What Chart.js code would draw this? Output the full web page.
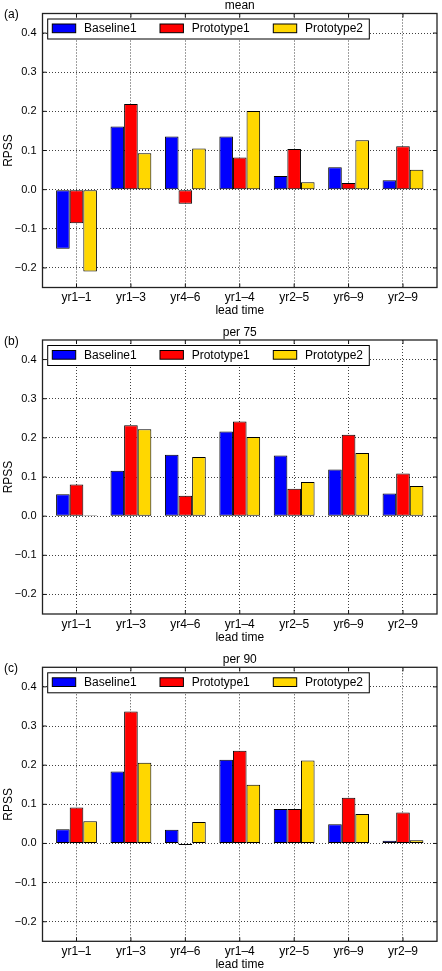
<!DOCTYPE html>
<html>
<head>
<meta charset="utf-8">
<script src="https://cdn.jsdelivr.net/npm/chart.js@4.4.1/dist/chart.umd.min.js"></script>
<style>
  html, body { margin: 0; padding: 0; background: #fff; overflow: hidden; }
  canvas { position: absolute; left: 0; }
</style>
</head>
<body>
<canvas id="chart-a" width="442" height="327" style="top:0px"></canvas>
<canvas id="chart-b" width="442" height="327" style="top:327px"></canvas>
<canvas id="chart-c" width="442" height="327" style="top:654px"></canvas>
<script>
var categories = ["yr1–1", "yr1–3", "yr4–6", "yr1–4", "yr2–5", "yr6–9", "yr2–9"];
var seriesNames = ["Baseline1", "Prototype1", "Prototype2"];
var seriesColors = ["#0000ff", "#ff0000", "#ffd700"];
var yTicks = [-0.2, -0.1, 0.0, 0.1, 0.2, 0.3, 0.4];

var meanBaseline1  = [-0.151, 0.161, 0.136, 0.136, 0.035, 0.057, 0.024];
var meanPrototype1 = [-0.086, 0.219, -0.036, 0.082, 0.104, 0.017, 0.111];
var meanPrototype2 = [-0.209, 0.093, 0.105, 0.201, 0.019, 0.126, 0.051];

var per75Baseline1  = [0.056, 0.116, 0.157, 0.216, 0.155, 0.119, 0.058];
var per75Prototype1 = [0.081, 0.232, 0.052, 0.242, 0.070, 0.208, 0.109];
var per75Prototype2 = [0.002, 0.222, 0.151, 0.202, 0.087, 0.161, 0.077];

var per90Baseline1  = [0.036, 0.184, 0.035, 0.214, 0.088, 0.049, 0.007];
var per90Prototype1 = [0.092, 0.337, -0.004, 0.237, 0.088, 0.117, 0.079];
var per90Prototype2 = [0.057, 0.206, 0.055, 0.150, 0.212, 0.075, 0.008];

var FONT = '"Liberation Sans", Arial, sans-serif';

// frame, inner ticks, title, panel tag and the in-plot legend
var panelDecor = {
    id: 'panelDecor',
    afterDraw: function(chart) {
        var o = chart.options.plugins.panelDecor;
        var ctx = chart.ctx, a = chart.chartArea;
        var xs = chart.scales.x, ys = chart.scales.y;
        ctx.save();

        ctx.strokeStyle = '#111';
        ctx.lineWidth = 1;
        ctx.beginPath();
        xs.ticks.forEach(function(t) {
            var x = xs.getPixelForValue(t.value);
            ctx.moveTo(x, a.top); ctx.lineTo(x, a.top + 4);
            ctx.moveTo(x, a.bottom); ctx.lineTo(x, a.bottom - 4);
        });
        ys.ticks.forEach(function(t) {
            var y = ys.getPixelForValue(t.value);
            ctx.moveTo(a.left, y); ctx.lineTo(a.left + 4, y);
            ctx.moveTo(a.right, y); ctx.lineTo(a.right - 4, y);
        });
        ctx.stroke();

        ctx.lineWidth = 1.3;
        ctx.strokeStyle = '#222';
        ctx.strokeRect(a.left, a.top, a.right - a.left, a.bottom - a.top);

        ctx.fillStyle = '#000';
        ctx.font = '12px ' + FONT;
        ctx.textBaseline = 'middle';
        ctx.textAlign = 'center';
        ctx.fillText(o.title, (a.left + a.right) / 2, a.top - 7.5);
        ctx.textAlign = 'left';
        ctx.fillText(o.tag, 4, a.top + 1.5);

        // legend box
        var bx = a.left + 5.2, by = a.top + 5.5;
        ctx.fillStyle = '#fff';
        ctx.fillRect(bx, by, 321.6, 20);
        ctx.lineWidth = 1;
        ctx.strokeStyle = '#000';
        ctx.strokeRect(bx, by, 321.6, 20);
        var sx = [9.8, 117.5, 230.8];
        chart.data.datasets.forEach(function(ds, i) {
            var x = a.left + sx[i];
            ctx.fillStyle = ds.backgroundColor;
            ctx.fillRect(x, a.top + 10.5, 23.4, 8.7);
            ctx.strokeStyle = '#000';
            ctx.strokeRect(x, a.top + 10.5, 23.4, 8.7);
            ctx.fillStyle = '#000';
            ctx.fillText(ds.label, x + 31.7, by + 10);
        });
        ctx.restore();
    }
};

function fmtTick(v) {
    return v.toFixed(1).replace('-', '\u2212');
}

function makePanel(id, canvasTop, plotTop, title, tag, b1, p1, p2) {
    var padTop = plotTop - canvasTop;
    var plotH = 274;
    var xHeight = 327 - padTop - plotH;
    var titlePad = xHeight - 23.5 - 7.2;
    var values = [b1, p1, p2];

    var chartData = {
        datasets: seriesNames.map(function(name, s) {
            return {
                label: name,
                data: values[s].map(function(v, i) { return { x: i, y: v }; }),
                backgroundColor: seriesColors[s],
                borderColor: '#000',
                borderWidth: 1,
                borderSkipped: false,
                barPercentage: 1.0,
                categoryPercentage: 0.75
            };
        })
    };

    var gridOpts = { color: 'rgba(0,0,0,0.75)', lineWidth: 1, drawTicks: false, offset: false };

    var config = {
        type: 'bar',
        data: chartData,
        options: {
            responsive: false,
            animation: false,
            layout: { padding: { top: padTop, left: 0, right: 5, bottom: 0 } },
            plugins: {
                legend: { display: false },
                tooltip: { enabled: false },
                panelDecor: { title: title, tag: tag }
            },
            scales: {
                x: {
                    type: 'linear',
                    offset: false,
                    min: -0.625,
                    max: categories.length - 1 + 0.625,
                    afterBuildTicks: function(s) {
                        s.ticks = categories.map(function(c, i) { return { value: i }; });
                    },
                    afterFit: function(s) { s.height = xHeight; },
                    ticks: {
                        autoSkip: false, maxRotation: 0, padding: 3, color: '#000',
                        font: { family: FONT, size: 12 },
                        callback: function(v, i) { return categories[i]; }
                    },
                    grid: gridOpts,
                    border: { display: false, dash: [1, 2] },
                    title: {
                        display: true, text: 'lead time', color: '#000',
                        font: { family: FONT, size: 12 },
                        padding: { top: 0, bottom: titlePad }
                    }
                },
                y: {
                    min: -0.25,
                    max: 0.45,
                    afterBuildTicks: function(s) {
                        s.ticks = yTicks.map(function(v) { return { value: v }; });
                    },
                    afterFit: function(s) { s.width = 42.5; },
                    ticks: {
                        padding: 6, color: '#000',
                        font: { family: FONT, size: 11 },
                        callback: function(v) { return fmtTick(v); }
                    },
                    grid: gridOpts,
                    border: { display: false, dash: [1, 2] },
                    title: {
                        display: true, text: 'RPSS', color: '#000',
                        font: { family: FONT, size: 12 },
                        padding: { top: 1, bottom: 0 }
                    }
                }
            }
        },
        plugins: [panelDecor]
    };

    return new Chart(document.getElementById(id), config);
}

makePanel('chart-a', 0, 13.5, 'mean', '(a)', meanBaseline1, meanPrototype1, meanPrototype2);
makePanel('chart-b', 327, 340, 'per 75', '(b)', per75Baseline1, per75Prototype1, per75Prototype2);
makePanel('chart-c', 654, 667.3, 'per 90', '(c)', per90Baseline1, per90Prototype1, per90Prototype2);
</script>
</body>
</html>
